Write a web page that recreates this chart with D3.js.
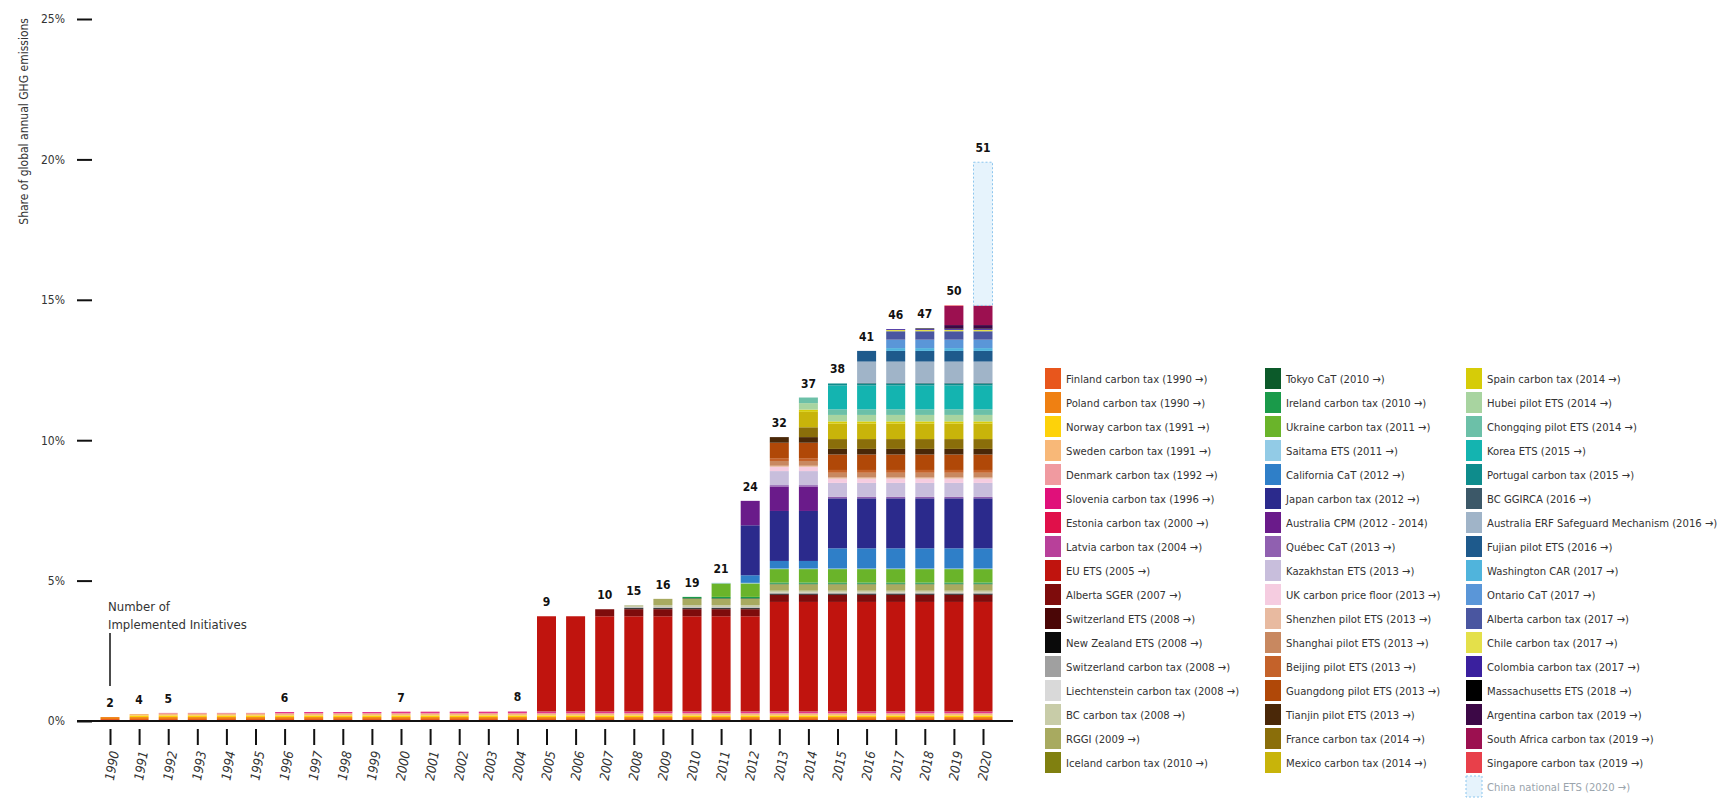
<!DOCTYPE html>
<html>
<head>
<meta charset="utf-8">
<script src="https://cdn.jsdelivr.net/npm/d3@7"></script>
<style>
  body { margin: 0; background: #fff; }
  svg text { font-family: "Liberation Sans Narrow", "DejaVu Sans Condensed", "Open Sans", sans-serif; fill: #333; }
</style>
</head>
<body>
<div id="chart"></div>
<script>
// years on the x axis
const years = [1990, 1991, 1992, 1993, 1994, 1995, 1996, 1997, 1998, 1999, 2000,
  2001, 2002, 2003, 2004, 2005, 2006, 2007, 2008, 2009, 2010,
  2011, 2012, 2013, 2014, 2015, 2016, 2017, 2018, 2019, 2020];

const yTicks = [0, 5, 10, 15, 20, 25];

// initiatives, in stacking / legend order
const names = [
  "Finland carbon tax (1990 →)", "Poland carbon tax (1990 →)", "Norway carbon tax (1991 →)",
  "Sweden carbon tax (1991 →)", "Denmark carbon tax (1992 →)", "Slovenia carbon tax (1996 →)",
  "Estonia carbon tax (2000 →)", "Latvia carbon tax (2004 →)", "EU ETS (2005 →)",
  "Alberta SGER (2007 →)", "Switzerland ETS (2008 →)", "New Zealand ETS (2008 →)",
  "Switzerland carbon tax (2008 →)", "Liechtenstein carbon tax (2008 →)", "BC carbon tax (2008 →)",
  "RGGI (2009 →)", "Iceland carbon tax (2010 →)",
  "Tokyo CaT (2010 →)", "Ireland carbon tax (2010 →)", "Ukraine carbon tax (2011 →)",
  "Saitama ETS (2011 →)", "California CaT (2012 →)", "Japan carbon tax (2012 →)",
  "Australia CPM (2012 - 2014)", "Québec CaT (2013 →)", "Kazakhstan ETS (2013 →)",
  "UK carbon price floor (2013 →)", "Shenzhen pilot ETS (2013 →)", "Shanghai pilot ETS (2013 →)",
  "Beijing pilot ETS (2013 →)", "Guangdong pilot ETS (2013 →)", "Tianjin pilot ETS (2013 →)",
  "France carbon tax (2014 →)", "Mexico carbon tax (2014 →)",
  "Spain carbon tax (2014 →)", "Hubei pilot ETS (2014 →)", "Chongqing pilot ETS (2014 →)",
  "Korea ETS (2015 →)", "Portugal carbon tax (2015 →)", "BC GGIRCA (2016 →)",
  "Australia ERF Safeguard Mechanism (2016 →)", "Fujian pilot ETS (2016 →)", "Washington CAR (2017 →)",
  "Ontario CaT (2017 →)", "Alberta carbon tax (2017 →)", "Chile carbon tax (2017 →)",
  "Colombia carbon tax (2017 →)", "Massachusetts ETS (2018 →)", "Argentina carbon tax (2019 →)",
  "South Africa carbon tax (2019 →)", "Singapore carbon tax (2019 →)", "China national ETS (2020 →)"
];

const startYears = [1990, 1990, 1991, 1991, 1992, 1996, 2000, 2004, 2005, 2007, 2008, 2008, 2008, 2008, 2008, 2009, 2010,
  2010, 2010, 2011, 2011, 2012, 2012, 2012, 2013, 2013, 2013, 2013, 2013, 2013, 2013, 2013, 2014, 2014,
  2014, 2014, 2014, 2015, 2015, 2016, 2016, 2016, 2017, 2017, 2017, 2017, 2017, 2018, 2019, 2019, 2019, 2020];

const endYears = names.map(n => n.startsWith("Australia CPM") ? 2014 : 2020);

// share of global annual GHG emissions (%), [fromYear, value] where it changes
const shares = [0.07, 0.07, 0.06, 0.05, 0.04, 0.03, 0.01, 0.01, [[2005, 3.39], [2013, 3.9]],
  0.25, 0.01, 0.03, 0.03, 0.01, 0.07, 0.22, 0.01,
  0.02, 0.04, 0.48, 0.02, [[2012, 0.27], [2015, 0.72]], 1.78, 0.87, 0.05, 0.5,
  0.15, 0.04, 0.17, 0.1, 0.55, 0.2, 0.35, 0.55,
  0.08, 0.23, 0.2, 0.85, 0.07, 0.02, 0.76, 0.38, 0.1,
  0.3, 0.3, 0.05, 0.03, 0.02, 0.12, 0.68, 0.02, 5.1];

const colors = ["#e8561c", "#ef8012", "#fdd20a", "#f8b878", "#f09aa0", "#e0107a", "#e0104a", "#b8409a", "#c0140e",
  "#7e0c0c", "#4a0606", "#0a0a0a", "#a0a0a0", "#d9d9d9", "#c8cca8", "#a8aa60", "#808010",
  "#0c5a2a", "#1a9a4a", "#6ab42a", "#92cbe6", "#2f7fc8", "#2b2a8c", "#6a1b8a", "#9060b0", "#c8bedc",
  "#f5cce0", "#e8baa0", "#c88860", "#c4622a", "#b04808", "#4a2808", "#8a6e0a", "#c8b40a",
  "#d6cc08", "#a8d4a0", "#6cc0a8", "#14b4b0", "#0e8c8c", "#3c5868", "#a0b4c8", "#1e5a8c", "#50b4dc",
  "#5a96d8", "#4a56a0", "#e4e04a", "#3a209e", "#000000", "#3c0846", "#9c1050", "#e8404a", "#e6f3fc"];

// number of implemented initiatives, shown where it changes
const countYears = [1990, 1991, 1992, 1996, 2000, 2004, 2005, 2007, 2008, 2009, 2010, 2011, 2012, 2013, 2014, 2015, 2016, 2017, 2018, 2019, 2020];
const countValues = [2, 4, 5, 6, 7, 8, 9, 10, 15, 16, 19, 21, 24, 32, 37, 38, 41, 46, 47, 50, 51];

const width = 1720, height = 800;

const svg = d3.select("#chart")
    .append("svg")
    .attr("width", width)
    .attr("height", height);

const x = d3.scalePoint()
    .domain(years)
    .range([110, 983]);
const barW = 19;

const y = d3.scaleLinear()
    .domain([0, 25])
    .range([721, 19]);

function shareIn(i, yr) {
    if (yr < startYears[i] || yr > endYears[i]) return 0;
    const s = shares[i];
    if (!Array.isArray(s)) return s;
    let v = 0;
    s.forEach(p => { if (yr >= p[0]) v = p[1]; });
    return v;
}

// build stacked segments
const segments = [];
const totals = {};
years.forEach(yr => {
    let acc = 0;
    names.forEach((n, i) => {
        const v = shareIn(i, yr);
        if (v > 0) {
            segments.push({year: yr, i: i, y0: acc, y1: acc + v});
            acc += v;
        }
    });
    totals[yr] = acc;
});

// y axis
const yAxis = svg.append("g")
    .attr("transform", "translate(92,0)")
    .call(d3.axisLeft(y).tickValues(yTicks).tickSize(15).tickPadding(12).tickFormat(d => d + "%"));
yAxis.select(".domain").remove();
yAxis.selectAll(".tick line").attr("stroke", "#111").attr("stroke-width", 2);
yAxis.selectAll(".tick text").style("font-size", "12px").style("fill", "#333");

svg.append("text")
    .attr("transform", "translate(28,18) rotate(-90)")
    .attr("text-anchor", "end")
    .style("font-size", "12px")
    .text("Share of global annual GHG emissions");

// bars
svg.append("g").selectAll("rect")
    .data(segments)
    .join("rect")
    .attr("x", d => x(d.year) - barW / 2)
    .attr("y", d => y(d.y1))
    .attr("width", barW)
    .attr("height", d => y(d.y0) - y(d.y1))
    .attr("fill", d => colors[d.i])
    .attr("stroke", d => d.i === names.length - 1 ? "#8cc6ee" : "none")
    .attr("stroke-dasharray", "2,2");

// baseline
svg.append("line")
    .attr("x1", 77).attr("x2", 1013)
    .attr("y1", y(0)).attr("y2", y(0))
    .attr("stroke", "#111").attr("stroke-width", 2);

// x axis
const xAxis = svg.append("g")
    .attr("transform", "translate(0,729)")
    .call(d3.axisBottom(x).tickSize(16).tickPadding(0));
xAxis.select(".domain").remove();
xAxis.selectAll(".tick line").attr("stroke", "#111").attr("stroke-width", 2);
xAxis.selectAll(".tick text")
    .attr("transform", "translate(4,22) rotate(-80)")
    .attr("text-anchor", "end")
    .attr("dy", "0.35em")
    .attr("y", 0)
    .style("font-size", "13px")
    .style("font-style", "italic")
    .style("fill", "#333");

// count labels
svg.append("g").selectAll("text")
    .data(countYears)
    .join("text")
    .attr("x", x)
    .attr("y", (d, i) => y(totals[d]) - 10)
    .attr("text-anchor", "middle")
    .style("font-size", "12px")
    .style("font-weight", "bold")
    .style("fill", "#111")
    .text((d, i) => countValues[i]);

// annotation
svg.append("line")
    .attr("x1", x(1990)).attr("x2", x(1990))
    .attr("y1", 633).attr("y2", 686)
    .attr("stroke", "#111").attr("stroke-width", 1.5);
svg.append("text")
    .attr("x", x(1990) - 2).attr("y", 611)
    .style("font-size", "13px")
    .text("Number of");
svg.append("text")
    .attr("x", x(1990) - 2).attr("y", 629)
    .style("font-size", "13px")
    .text("Implemented Initiatives");

// legend
const colX = [1045, 1265, 1466];
const colStart = [0, 17, 34];
const legend = svg.append("g").selectAll("g")
    .data(names)
    .join("g")
    .attr("transform", (d, i) => {
        const c = i < 17 ? 0 : (i < 34 ? 1 : 2);
        return `translate(${colX[c]},${379 + (i - colStart[c]) * 24})`;
    });

legend.append("rect")
    .attr("x", 0).attr("y", -11)
    .attr("width", 16).attr("height", 21)
    .attr("fill", (d, i) => colors[i])
    .attr("stroke", (d, i) => i === names.length - 1 ? "#8cc6ee" : "none")
    .attr("stroke-dasharray", "2,2");

legend.append("text")
    .attr("x", 21)
    .attr("dy", "0.35em")
    .style("font-size", "11.2px")
    .style("fill", (d, i) => i === names.length - 1 ? "#9aa4ac" : "#333")
    .text(d => d);
</script>
</body>
</html>
